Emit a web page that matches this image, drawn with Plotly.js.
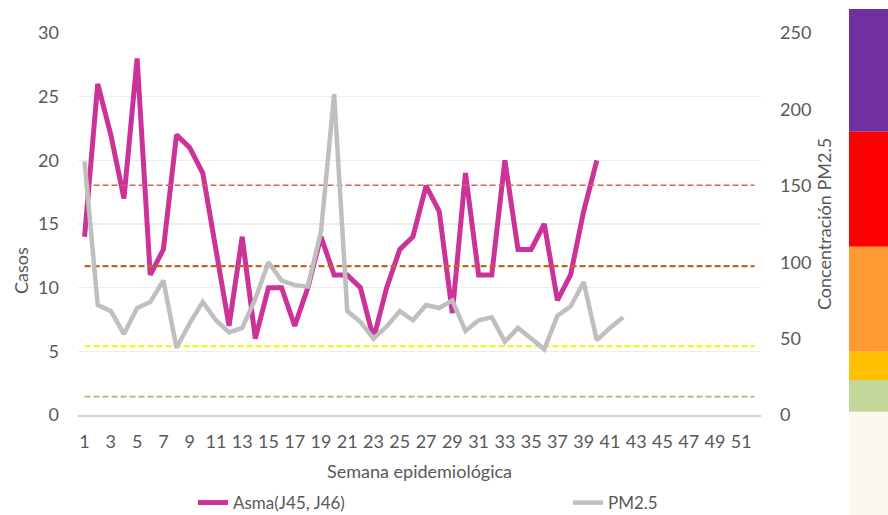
<!DOCTYPE html>
<html>
<head>
<meta charset="utf-8">
<script src="https://cdn.plot.ly/plotly-3.0.1.min.js"></script>
<style>html,body{margin:0;padding:0;background:#fff;}#chart{width:888px;height:515px;}</style>
</head>
<body>
<div id="chart"></div>
<script>
// ---- data ----
var weeks = [];
for (var w = 1; w <= 52; w++) weeks.push(w);
var asmaWeeks = weeks.slice(0, 40);
var asma = [14,26,22,17,28,11,13,22,21,19,13,7,14,6,10,10,7,10,14,11,11,10,6,10,13,14,18,16,8,19,11,11,20,13,13,15,9,11,16,20];
var pmWeeks = weeks.slice(0, 42);
var pm25 = [166,72,68,53,70,74,88,44,60,74,62,54,57,76,100,88,85,84,120,210,68,61,50,58,68,62,72,70,75,55,62,64,48,57,50,43,65,71,87,49,57,64];
var thresholds = [150.4, 97.4, 45, 12];
var thresholdColors = ['#E25A5A', '#C8641E', '#F2F200', '#9DBE74'];
var thresholdWidths = [1.6, 2.4, 2, 1.6];
var xTickVals = weeks.filter(function(v){ return v % 2 === 1; });
var xTickText = xTickVals.map(String);
var bandColors = ['#7030A0', '#FF0000', '#FF9933', '#FFC000', '#C4D79B'];
var bandTopsPx = [9, 131.7, 246.7, 351.7, 380];
var bandBotsPx = [131.7, 246.7, 351.7, 380, 411.7];

// ---- geometry helpers (layout only) ----
var L = 78, R = 127, T = 33, B = 100, W = 888, H = 515;
var pw = W - L - R, ph = H - T - B;
function px(x){ return (x - L) / pw; }
function py(y){ return (H - B - y) / ph; }

var traces = [];
thresholds.forEach(function(v, i){
  traces.push({
    x: weeks, y: weeks.map(function(){ return v; }), yaxis: 'y2',
    type: 'scatter', mode: 'lines', showlegend: false, hoverinfo: 'skip',
    line: {color: thresholdColors[i], width: thresholdWidths[i], dash: '6px,3px'}
  });
});
traces.push({
  x: asmaWeeks, y: asma, name: 'Asma(J45, J46)', type: 'scatter', mode: 'lines',
  line: {color: '#CC3399', width: 5}, legendwidth: 330
});
traces.push({
  x: pmWeeks, y: pm25, name: 'PM2.5', yaxis: 'y2', type: 'scatter', mode: 'lines',
  line: {color: '#BFBFBF', width: 4.5}, legendwidth: 70
});

var shapes = bandColors.map(function(c, i){
  return {type: 'rect', xref: 'paper', yref: 'paper', x0: px(849), x1: px(890),
    y0: py(bandBotsPx[i]), y1: py(bandTopsPx[i]), fillcolor: c, line: {width: 0}, layer: 'above'};
});
shapes.push({type: 'rect', xref: 'paper', yref: 'paper', x0: px(849), x1: px(890),
  y0: py(516), y1: py(411.7), fillcolor: '#FBF8F2', line: {width: 0}, layer: 'below'});

var font = 'Lato, "Open Sans", sans-serif';
var layout = {
  width: W, height: H,
  margin: {l: L, r: R, t: T, b: B, pad: 0, autoexpand: false},
  paper_bgcolor: '#ffffff', plot_bgcolor: '#ffffff',
  font: {family: font, color: '#595959', size: 18},
  showlegend: true,
  legend: {orientation: 'h', x: px(193), xanchor: 'left', y: py(503), yanchor: 'middle',
    font: {family: font, size: 17, color: '#595959'}, bgcolor: 'rgba(0,0,0,0)', borderwidth: 0},
  xaxis: {
    range: [0.5, 52.5], tickvals: xTickVals, ticktext: xTickText,
    showgrid: false, zeroline: false, showline: true, linecolor: '#D0D0D0', linewidth: 1.5,
    ticks: '', ticklabelstandoff: 10, tickfont: {size: 18, color: '#595959'},
    title: {text: 'Semana epidemiológica', font: {size: 18, color: '#595959'}, standoff: 14},
    fixedrange: true
  },
  yaxis: {
    range: [0, 30], dtick: 5, tick0: 0, showgrid: true, gridcolor: '#EDEDED', gridwidth: 1.2,
    zeroline: false, showline: false, ticks: '', ticklabelstandoff: 18,
    tickfont: {size: 18, color: '#595959'}, fixedrange: true
  },
  yaxis2: {
    range: [0, 250], dtick: 50, tick0: 0, overlaying: 'y', side: 'right',
    showgrid: false, zeroline: false, showline: false, ticks: '', ticklabelstandoff: 18,
    tickfont: {size: 18, color: '#595959'},
    title: {text: 'Concentración PM2.5', font: {size: 18, color: '#595959'}, standoff: 8},
    fixedrange: true
  },
  annotations: [{
    text: 'Casos', xref: 'paper', yref: 'paper', x: px(21), y: py(271),
    showarrow: false, textangle: -90, xanchor: 'center', yanchor: 'middle',
    font: {family: font, size: 18, color: '#595959'}
  }],
  shapes: shapes,
  hovermode: false
};

Plotly.newPlot('chart', traces, layout, {displayModeBar: false, staticPlot: true});
</script>
</body>
</html>
